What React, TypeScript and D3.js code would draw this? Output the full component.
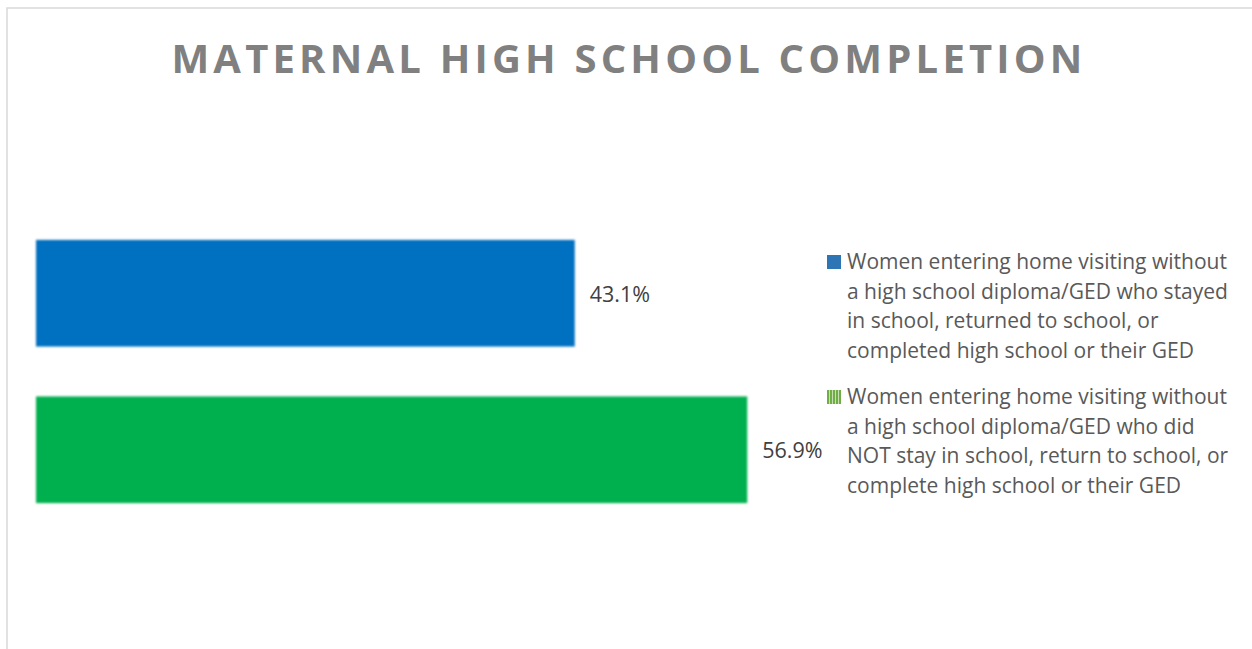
import { useEffect, useRef } from "react";
import * as d3 from "d3";

const title = "MATERNAL HIGH SCHOOL COMPLETION";
const categories = ["stayed", "notStayed"];
const values = [43.1, 56.9];
const colors = ["#0070C0", "#00B050"];
const legendLines = [
  [
    "Women entering home visiting without",
    "a high school diploma/GED who stayed",
    "in school, returned to school, or",
    "completed high school or their GED",
  ],
  [
    "Women entering home visiting without",
    "a high school diploma/GED who did",
    "NOT stay in school, return to school, or",
    "complete high school or their GED",
  ],
];

const W = 1252;
const H = 649;

export default function App() {
  const svgRef = useRef<SVGSVGElement>(null);

  useEffect(() => {
    const svg = d3.select(svgRef.current);
    svg.selectAll("*").remove();

    const defs = svg.append("defs");
    // soft edge like the office glow
    const blur = defs.append("filter").attr("id", "soft").attr("x", "-2%").attr("y", "-5%").attr("width", "104%").attr("height", "110%");
    blur.append("feGaussianBlur").attr("stdDeviation", 0.8);
    const pat = defs
      .append("pattern")
      .attr("id", "stripes")
      .attr("patternUnits", "userSpaceOnUse")
      .attr("width", 3)
      .attr("height", 10);
    pat.append("rect").attr("width", 3).attr("height", 10).attr("fill", "#c6e0b4");
    pat.append("rect").attr("width", 2).attr("height", 10).attr("fill", "#70AD47");

    // chart frame
    svg
      .append("path")
      .attr("d", `M7,${H} L7,8 L${W},8`)
      .attr("fill", "none")
      .attr("stroke", "#d9d9d9")
      .attr("stroke-width", 1.5);

    svg
      .append("text")
      .attr("x", 629)
      .attr("y", 73)
      .attr("text-anchor", "middle")
      .attr("font-family", "'Open Sans', sans-serif")
      .attr("font-weight", "bold")
      .attr("font-size", 40)
      .attr("letter-spacing", 4.2)
      .attr("fill", "#808080")
      .text(title);

    const x = d3.scaleLinear().domain([0, 60]).range([36, 786]);
    const y = d3.scaleBand().domain(categories).range([215, 528]).paddingInner(0.3185).paddingOuter(0.159);

    svg
      .selectAll("rect.bar")
      .data(values)
      .join("rect")
      .attr("class", "bar")
      .attr("x", x(0))
      .attr("y", (_, i) => y(categories[i])!)
      .attr("width", (d) => x(d) - x(0))
      .attr("height", y.bandwidth())
      .attr("fill", (_, i) => colors[i])
      .attr("filter", "url(#soft)");

    svg
      .selectAll("text.val")
      .data(values)
      .join("text")
      .attr("class", "val")
      .attr("x", (d) => x(d) + 15)
      .attr("y", (_, i) => y(categories[i])! + y.bandwidth() / 2 + 1)
      .attr("dy", "0.35em")
      .attr("font-family", "'Open Sans', sans-serif")
      .attr("font-size", 21.5)
      .attr("fill", "#404040")
      .text((d) => d.toFixed(1) + "%");

    const legendTop = [262, 397];
    legendLines.forEach((lines, i) => {
      const g = svg.append("g").attr("transform", `translate(827,${legendTop[i]})`);
      g.append("rect")
        .attr("x", 0)
        .attr("y", -7)
        .attr("width", 14)
        .attr("height", 14)
        .attr("fill", i === 0 ? "#2E75B6" : "url(#stripes)");
      g.selectAll("text")
        .data(lines)
        .join("text")
        .attr("x", 20)
        .attr("y", (_, j) => j * 29.5)
        .attr("dy", "0.35em")
        .attr("font-family", "'Open Sans', sans-serif")
        .attr("font-size", 21)
        .attr("fill", "#595959")
        .text((d) => d);
    });
  }, []);

  return (
    <svg
      ref={svgRef}
      width={W}
      height={H}
      style={{ position: "absolute", left: 0, top: 0, background: "#fff" }}
    />
  );
}
